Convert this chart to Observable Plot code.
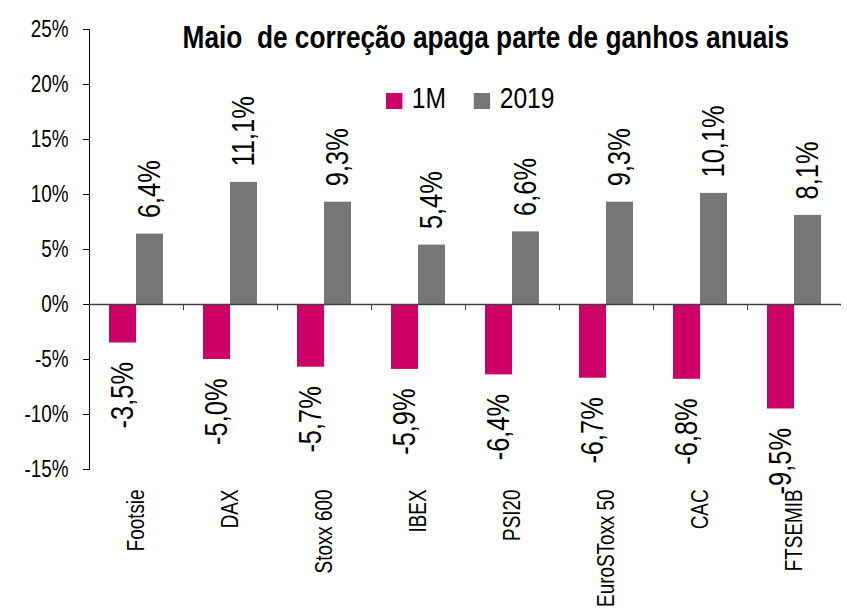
<!DOCTYPE html>
<html><head><meta charset="utf-8">
<script src="https://cdn.jsdelivr.net/npm/d3@7"></script>
<script src="https://cdn.jsdelivr.net/npm/@observablehq/plot@0.6"></script>
<style>
body{margin:0;background:#fff;}
#wrap{position:relative;width:847px;height:612px;font-family:"Liberation Sans",Arial,sans-serif;color:#000;overflow:hidden;}
#title{position:absolute;left:0;top:21px;width:972px;text-align:center;font-weight:bold;font-size:32px;line-height:1;white-space:pre;}
#title span{display:inline-block;transform:scaleX(0.82);transform-origin:center;}
#legend{position:absolute;left:386px;top:83px;display:flex;align-items:center;font-size:30px;line-height:1;transform:scaleX(0.82);transform-origin:left center;white-space:nowrap;}
#legend .item{display:flex;align-items:center;margin-right:34px;}
#legend .sw{width:19.5px;height:16px;margin-right:12px;position:relative;top:3px;}
</style></head><body><div id="wrap"></div>
<script>
const categories = ["Footsie","DAX","Stoxx 600","IBEX","PSI20","EuroSToxx 50","CAC","FTSEMIB"];
const series = ["1M","2019"];
const values1M = [-3.5,-5.0,-5.7,-5.9,-6.4,-6.7,-6.8,-9.5];
const values2019 = [6.4,11.1,9.3,5.4,6.6,9.3,10.1,8.1];
const yTicks = [-15,-10,-5,0,5,10,15,20,25];
const colors = ["#cc0066","#767676"];
const title = "Maio  de correção apaga parte de ganhos anuais";

const W = 847, H = 612, mL = 89, mR = 6, mT = 29, mB = 143;
const band = (W - mL - mR) / categories.length;
const barW = 27;
const outer = band / 2 - barW;
const narrow = 0.82, narrowValues = 0.73;
const d1 = categories.map((c, i) => ({cat: c, s: series[0], v: values1M[i]}));
const d2 = categories.map((c, i) => ({cat: c, s: series[1], v: values2019[i]}));
const fmt = v => v.toFixed(1).replace(".", ",") + "%";
const font = '"Liberation Sans",Arial,sans-serif';

const chart = Plot.plot({
  width: W, height: H, marginLeft: mL, marginRight: mR, marginTop: mT, marginBottom: mB,
  style: {fontFamily: font, fontSize: "23px", color: "#000", background: "transparent"},
  x: {domain: categories, padding: 0, tickRotate: -90, tickSize: 0, tickPadding: 20, label: null},
  y: {domain: [-15, 25], ticks: yTicks, tickFormat: d => d + "%", tickSize: 6, tickPadding: 15, line: true, label: null},
  marks: [
    Plot.barY(d1, {x: "cat", y: "v", fill: colors[0], insetLeft: outer, insetRight: band - outer - barW}),
    Plot.barY(d2, {x: "cat", y: "v", fill: colors[1], insetLeft: band / 2, insetRight: outer}),
    Plot.ruleY([0], {stroke: "#404040", strokeWidth: 1.5}),
    Plot.ruleX(categories.slice(0, -1), {x: d => d, dx: band / 2, y1: 0, y2: 0, insetBottom: -6, stroke: "#404040"}),
    Plot.text(d1, {x: "cat", y: "v", text: d => fmt(d.v), rotate: -90, textAnchor: "end", dx: -barW / 2, dy: 19, fontSize: 31, ariaLabel: "value-label"}),
    Plot.text(d2, {x: "cat", y: "v", text: d => fmt(d.v), rotate: -90, textAnchor: "start", dx: barW / 2, dy: -16, fontSize: 31, ariaLabel: "value-label"})
  ]
});

const wrap = document.getElementById("wrap");
wrap.appendChild(chart);
// condense chart texts to narrow proportions
chart.querySelectorAll("text").forEach(el => {
  const L = el.getComputedTextLength();
  if (L > 0) {
    const isValue = el.closest('g[aria-label="value-label"]') !== null;
    el.setAttribute("textLength", L * (isValue ? narrowValues : narrow));
    el.setAttribute("lengthAdjust", "spacingAndGlyphs");
  }
});
const t = document.createElement("div");
t.id = "title";
const ts = document.createElement("span"); ts.textContent = title; t.appendChild(ts);
wrap.appendChild(t);
const lg = document.createElement("div");
lg.id = "legend";
series.forEach((s, i) => {
  const it = document.createElement("div"); it.className = "item";
  const sw = document.createElement("div"); sw.className = "sw"; sw.style.background = colors[i];
  const tx = document.createElement("span"); tx.textContent = s;
  it.appendChild(sw); it.appendChild(tx); lg.appendChild(it);
});
wrap.appendChild(lg);
</script></body></html>
